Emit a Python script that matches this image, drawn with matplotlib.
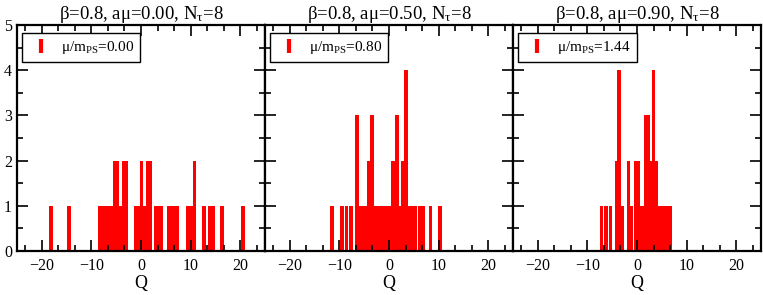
import matplotlib
matplotlib.use('Agg')
import matplotlib.pyplot as plt
from matplotlib.lines import Line2D
from matplotlib.ticker import MultipleLocator

plt.rcParams['font.family'] = ['Liberation Serif', 'DejaVu Serif']
plt.rcParams['mathtext.default'] = 'regular'

# bin centres of Q and number of configurations in each bin
q1 = [-18.15, -14.55, -8.25, -7.65, -7.05, -6.45, -5.95, -5.25, -4.75, -4.1, -3.45, -2.9,
      -1.0, -0.5, 0.13, 0.75, 1.35, 1.95, 2.95, 3.5, 4.05, 5.55, 6.15, 6.75, 7.35,
      9.4, 10.05, 10.8, 12.65, 13.95, 14.55, 16.3, 20.55]
n1 = [1, 1, 1, 1, 1, 1, 1, 2, 2, 1, 2, 2,
      1, 1, 2, 1, 2, 2, 1, 1, 1, 1, 1, 1, 1,
      1, 1, 2, 1, 1, 1, 1, 1]

q2 = [-11.45, -9.45, -8.55, -7.65, -6.45, -5.75, -5.15, -4.55, -4.05, -3.45,
      -2.75, -2.15, -1.55, -0.95, -0.35, 0.1, 0.75, 1.65, 2.2, 2.75, 3.45,
      4.1, 4.45, 5.2, 6.15, 6.9, 8.4, 10.3]
n2 = [1, 1, 1, 1, 3, 1, 1, 1, 2, 3,
      1, 1, 1, 1, 1, 1, 2, 3, 1, 2, 4,
      1, 1, 1, 1, 1, 1, 1]

q3 = [-7.2, -6.3, -5.3, -4.15, -3.6, -2.95, -1.75, -1.1, -0.3, 0.3, 1.0,
      1.75, 2.3, 2.8, 3.3, 3.95, 4.65, 5.3, 5.95, 6.6]
n3 = [1, 1, 1, 2, 4, 1, 2, 1, 2, 2, 1,
      3, 3, 2, 4, 2, 1, 1, 1, 1]

amu = ['0.00', '0.50', '0.90']
mu_mps = ['0.00', '0.80', '1.44']
data = [(q1, n1), (q2, n2), (q3, n3)]

fig = plt.figure(figsize=(7.63, 2.95), dpi=100)
left = 17 / 763
w = 248 / 763
bottom = 1 - 251 / 295
h = 226 / 295

for i in range(3):
    ax = fig.add_axes([left + i * w, bottom, w, h])
    q, n = data[i]
    ax.bar(q, n, width=0.72, color='red', linewidth=0)
    ax.set_xlim(-25, 25)
    ax.set_ylim(0, 5)
    ax.xaxis.set_major_locator(MultipleLocator(10))
    ax.xaxis.set_minor_locator(MultipleLocator(10 / 3))
    ax.yaxis.set_major_locator(MultipleLocator(1))
    ax.yaxis.set_minor_locator(MultipleLocator(0.5))
    ax.tick_params(which='both', direction='in', top=True, right=True, width=1.2, labelsize=11.5)
    ax.tick_params(which='major', length=8)
    ax.tick_params(which='minor', length=4)
    ax.tick_params(axis='x', pad=5)
    for s in ax.spines.values():
        s.set_linewidth(1.6)
    if i > 0:
        ax.set_yticklabels([])
    ax.set_xlabel('Q', fontsize=13, labelpad=1)
    ax.set_title('β=0.8, aμ=' + amu[i] + ', N$_{τ}$=8', fontsize=13.5, pad=4)
    h_leg = Line2D([], [], marker='|', markersize=10, markeredgewidth=3, color='red', linestyle='none')
    leg = ax.legend([h_leg], ['μ/m$_{PS}$=' + mu_mps[i]], loc='upper left',
                    bbox_to_anchor=(0.02, 0.965), borderaxespad=0, fontsize=11,
                    fancybox=False, framealpha=1, edgecolor='black',
                    handlelength=1.7, handletextpad=0.45, borderpad=0.4)
    leg.get_frame().set_linewidth(1.0)

fig.savefig('out.png', dpi=100)
